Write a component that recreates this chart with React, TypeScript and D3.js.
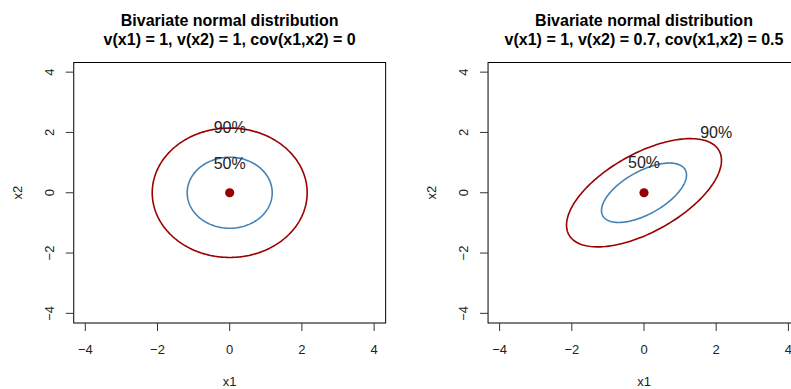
import React from 'react';
import * as d3 from 'd3';

// chart data
const panelTitles = ['v(x1) = 1, v(x2) = 1, cov(x1,x2) = 0', 'v(x1) = 1, v(x2) = 0.7, cov(x1,x2) = 0.5'];
const varX1 = [1, 1];
const varX2 = [1, 0.7];
const covX12 = [0, 0.5];
const levels = [0.5, 0.9];
const levelLabels = ['50%', '90%'];
const levelColors = ['#4682B4', '#9A0000'];
// label positions (data coords) per panel, per level
const labelX = [[0, 0], [0, 2]];
const labelY = [[0.98, 2.18], [1, 2]];
const ticks = [-4, -2, 0, 2, 4];

const W = 791;
const H = 389;
const FONT = '"Liberation Sans", Arial, Helvetica, sans-serif';
const panelCenters = [229.7, 644];
const pxPerX = 36.1;
const domain: [number, number] = [-4.32, 4.32];
const plotTop = 62.5;
const plotBottom = 323;

function ellipsePoints(v1: number, v2: number, c: number, level: number): [number, number][] {
  // Cholesky of covariance, scaled by chi-square(2) quantile
  const r = Math.sqrt(-2 * Math.log(1 - level));
  const l11 = Math.sqrt(v1);
  const l21 = c / l11;
  const l22 = Math.sqrt(v2 - l21 * l21);
  return d3.range(0, 201).map((i) => {
    const t = (i / 200) * 2 * Math.PI;
    const u = r * Math.cos(t);
    const w = r * Math.sin(t);
    return [l11 * u, l21 * u + l22 * w];
  });
}

function Panel({ idx }: { idx: number }) {
  const cx = panelCenters[idx];
  const x = d3.scaleLinear().domain(domain).range([cx + domain[0] * pxPerX, cx + domain[1] * pxPerX]);
  const y = d3.scaleLinear().domain(domain).range([plotBottom, plotTop]);
  const line = d3
    .line<[number, number]>()
    .x((d) => x(d[0]))
    .y((d) => y(d[1]));
  const [x0, x1] = x.range();
  const tickLen = 8;

  return (
    <g>
      <text x={cx} y={25.5} textAnchor="middle" fontSize={16} fontWeight="bold" fontFamily={FONT}>
        Bivariate normal distribution
      </text>
      <text x={cx} y={45} textAnchor="middle" fontSize={16} fontWeight="bold" fontFamily={FONT}>
        {panelTitles[idx]}
      </text>

      {levels.map((lv, i) => (
        <path
          key={lv}
          d={line(ellipsePoints(varX1[idx], varX2[idx], covX12[idx], lv)) || ''}
          fill="none"
          stroke={levelColors[i]}
          strokeWidth={1.6}
        />
      ))}
      {levels.map((lv, i) => (
        <text
          key={'l' + lv}
          x={x(labelX[idx][i])}
          y={y(labelY[idx][i])}
          dy="0.36em"
          textAnchor="middle"
          fontSize={16}
          fontFamily={FONT}
          fill="#222"
        >
          {levelLabels[i]}
        </text>
      ))}
      <circle cx={x(0)} cy={y(0)} r={4.6} fill="#990000" />

      <rect x={x0} y={plotTop} width={x1 - x0} height={plotBottom - plotTop} fill="none" stroke="#000" strokeWidth={1} />

      {ticks.map((t) => (
        <g key={'xt' + t}>
          <line x1={x(t)} x2={x(t)} y1={plotBottom} y2={plotBottom + tickLen} stroke="#333" />
          <text x={x(t)} y={354} textAnchor="middle" fontSize={13} fontFamily={FONT} fill="#222">
            {t < 0 ? '\u2212' + Math.abs(t) : t}
          </text>
        </g>
      ))}
      {ticks.map((t) => (
        <g key={'yt' + t}>
          <line x1={x0 - tickLen} x2={x0} y1={y(t)} y2={y(t)} stroke="#333" />
          <text
            transform={`translate(${x0 - 20},${y(t)}) rotate(-90)`}
            textAnchor="middle"
            fontSize={13}
            fontFamily={FONT}
            fill="#222"
          >
            {t < 0 ? '\u2212' + Math.abs(t) : t}
          </text>
        </g>
      ))}
      <text x={cx} y={386} textAnchor="middle" fontSize={13} fontFamily={FONT} fill="#222">
        x1
      </text>
      <text
        transform={`translate(${x0 - 52},${(plotTop + plotBottom) / 2}) rotate(-90)`}
        textAnchor="middle"
        fontSize={13}
        fontFamily={FONT}
        fill="#222"
      >
        x2
      </text>
    </g>
  );
}

export default function App() {
  return (
    <svg
      width={W}
      height={H}
      style={{ position: 'absolute', left: 0, top: 0, background: '#fff' }}
    >
      <rect width={W} height={H} fill="#fff" />
      {panelTitles.map((_, i) => (
        <Panel key={i} idx={i} />
      ))}
    </svg>
  );
}
